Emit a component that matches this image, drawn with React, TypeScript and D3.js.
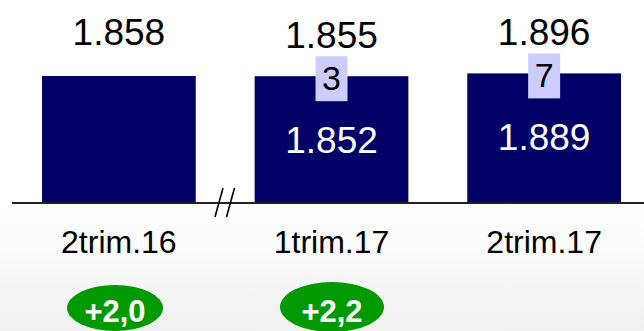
import React from "react";
import * as d3 from "d3";

const categories = ["2trim.16", "1trim.17", "2trim.17"];
const totals = [1858, 1855, 1896];
const baseValues = [null, 1852, 1889];
const deltas = [null, 3, 7];
const totalLabels = ["1.858", "1.855", "1.896"];
const baseLabels = ["", "1.852", "1.889"];
const bubbleLabels = ["+2,0", "+2,2"];

const W = 644;
const H = 331;
const baseY = 203;

export default function App() {
  const x = d3.scaleBand<string>().domain(categories).range([42, 621]).paddingInner(0.277).paddingOuter(0);
  const y = d3.scaleLinear().domain([0, 1858]).range([baseY, 76]);
  const font = "Arial, 'Liberation Sans', sans-serif";
  const bubbles = [
    { cx: 115, cy: 308, rx: 48, ry: 23 },
    { cx: 332, cy: 307, rx: 52, ry: 25 },
  ];
  return (
    <svg width={W} height={H} style={{ position: "absolute", left: 0, top: 0 }} fontFamily={font}>
      <defs>
        <linearGradient id="bg" x1="0" y1="0" x2="0" y2="1">
          <stop offset="0" stopColor="#ffffff" />
          <stop offset="0.62" stopColor="#ffffff" />
          <stop offset="1" stopColor="#f0f0f0" />
        </linearGradient>
      </defs>
      <rect x={0} y={0} width={W} height={H} fill="url(#bg)" />
      {categories.map((c, i) => {
        const x0 = x(c) as number;
        const bw = x.bandwidth();
        const cx = x0 + bw / 2;
        const top = y(totals[i]);
        const hasDelta = deltas[i] !== null;
        const boxTop = top - 20;
        return (
          <g key={c}>
            <rect x={x0} y={top} width={bw} height={baseY - top} fill="#000066" />
            {hasDelta && (
              <>
                <rect x={cx - 16} y={boxTop} width={32} height={45} fill="#ccccff" />
                <text x={cx} y={boxTop + 34} textAnchor="middle" fontSize={34} fill="#000">
                  {deltas[i]}
                </text>
                <text x={cx} y={top + 77} textAnchor="middle" fontSize={37} fill="#fff">
                  {baseLabels[i]}
                </text>
              </>
            )}
            <text
              x={cx}
              y={hasDelta ? boxTop - 8 : top - 31}
              textAnchor="middle"
              fontSize={37}
              fill="#000"
            >
              {totalLabels[i]}
            </text>
            <text x={cx} y={253} textAnchor="middle" fontSize={32} fill="#000">
              {c}
            </text>
          </g>
        );
      })}
      <line x1={12} x2={644} y1={baseY} y2={baseY} stroke="#222" strokeWidth={2} />
      <line x1={215} y1={217} x2={223} y2={188} stroke="#000" strokeWidth={1.6} />
      <line x1={226.5} y1={217} x2={234.5} y2={188} stroke="#000" strokeWidth={1.6} />
      {bubbles.map((b, i) => (
        <g key={i}>
          <ellipse cx={b.cx} cy={b.cy} rx={b.rx} ry={b.ry} fill="#009900" />
          <text x={b.cx} y={322} textAnchor="middle" fontSize={31} fontWeight="bold" fill="#fff">
            {bubbleLabels[i]}
          </text>
        </g>
      ))}
    </svg>
  );
}
